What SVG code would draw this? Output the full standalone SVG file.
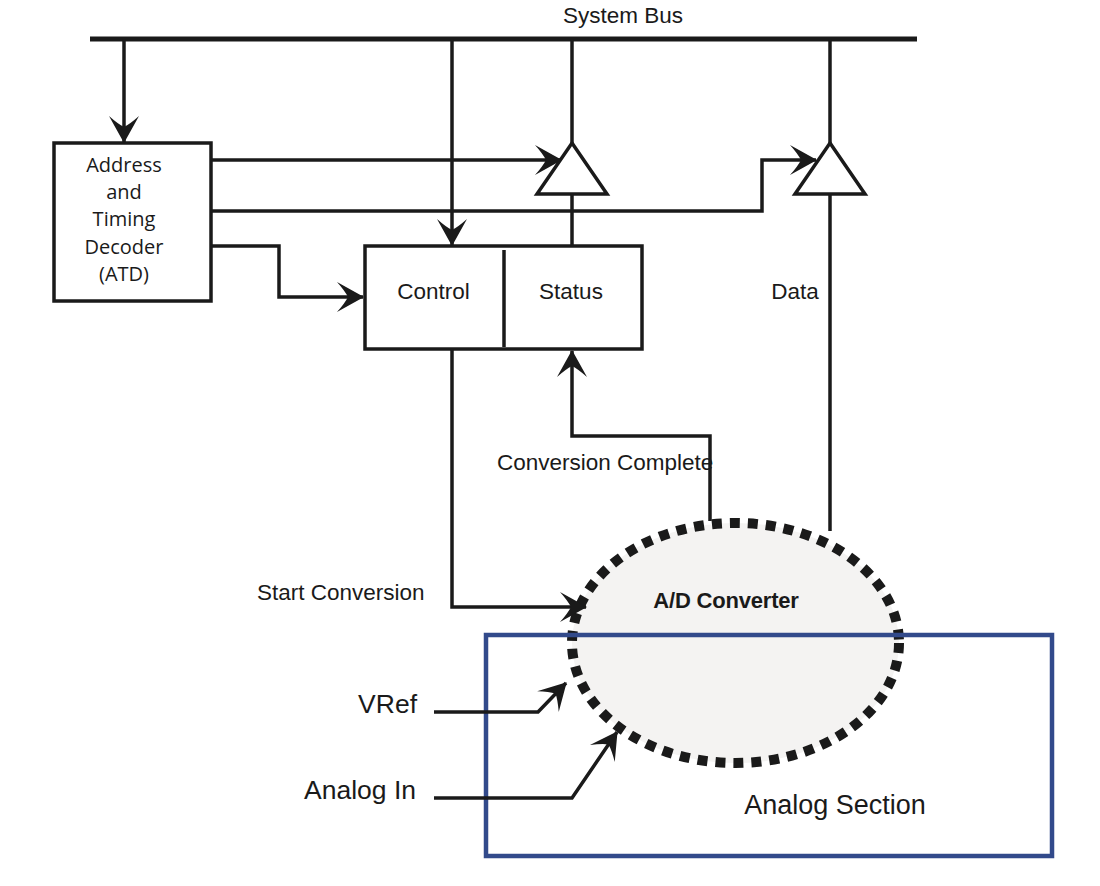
<svg xmlns="http://www.w3.org/2000/svg" width="1100" height="886" viewBox="0 0 1100 886">
<style>
.ln{fill:none;stroke:#1a1a1a;stroke-width:3.5;stroke-linejoin:miter}
.box{fill:#fff;stroke:#1a1a1a;stroke-width:3.5}
.t{font-family:"Liberation Sans",Arial,sans-serif;font-size:22.5px;fill:#1a1a1a}
.atd{font-family:"Open Sans","Noto Sans",sans-serif;font-size:20px;fill:#1a1a1a;text-anchor:middle}
.big{font-family:"Liberation Sans",Arial,sans-serif;font-size:26.5px;fill:#1a1a1a}
</style>
<defs>
<marker id="ah" viewBox="-27 -16 29 32" refX="0" refY="0" markerWidth="29" markerHeight="32" orient="auto" markerUnits="userSpaceOnUse">
<path d="M1,0 L-26,-15 Q-18,-6 -15,0 Q-18,6 -26,15 Z" fill="#1a1a1a"/>
</marker>
</defs>
<rect width="1100" height="886" fill="#fff"/>

<g id="adc">
<ellipse cx="735.5" cy="643" rx="163.5" ry="120" fill="#f4f3f2" stroke="#1a1a1a" stroke-width="10" stroke-dasharray="10 8"/>
<text x="726" y="608" class="t" style="font-weight:bold;font-size:22px;letter-spacing:-0.2px" text-anchor="middle">A/D Converter</text>
</g>

<g id="analog-section">
<rect x="486" y="635" width="566" height="221" fill="none" stroke="#324a8b" stroke-width="4.5"/>
<text x="835" y="814" class="big" text-anchor="middle" style="font-size:27px">Analog Section</text>
</g>

<g id="system-bus">
<line x1="90" y1="39" x2="917" y2="39" stroke="#1a1a1a" stroke-width="5"/>
<text x="623" y="23" class="t" text-anchor="middle">System Bus</text>
</g>

<g id="atd">
<rect x="54" y="143" width="157" height="158" class="box"/>
<text class="atd"><tspan x="124" y="172">Address</tspan><tspan x="124" y="199">and</tspan><tspan x="124" y="226">Timing</tspan><tspan x="124" y="254">Decoder</tspan><tspan x="124" y="281">(ATD)</tspan></text>
</g>

<g id="control-status">
<rect x="365" y="246" width="277" height="103" class="box"/>
<line x1="504" y1="250" x2="504" y2="347" stroke="#1a1a1a" stroke-width="3.5"/>
<text x="433.5" y="299" class="t" text-anchor="middle">Control</text>
<text x="571" y="299" class="t" text-anchor="middle">Status</text>
</g>

<g id="buffer1">
<polygon points="572,143 607,194 537,194" class="box"/>
</g>
<g id="buffer2">
<polygon points="830,143 865,194 795,194" class="box"/>
</g>

<g id="connectors">
<line x1="124" y1="39" x2="124" y2="142" class="ln" marker-end="url(#ah)"/>
<line x1="452" y1="39" x2="452" y2="245" class="ln" marker-end="url(#ah)"/>
<line x1="572" y1="39" x2="572" y2="143" class="ln"/>
<line x1="830" y1="39" x2="830" y2="143" class="ln"/>
<polyline points="211,160 561,160" class="ln" marker-end="url(#ah)"/>
<polyline points="211,211 762,211 762,160 816,160" class="ln" marker-end="url(#ah)"/>
<polyline points="211,246 279,246 279,297 363,297" class="ln" marker-end="url(#ah)"/>
<line x1="572" y1="194" x2="572" y2="246" class="ln"/>
<line x1="830" y1="194" x2="830" y2="531" class="ln"/>
<polyline points="452,349 452,607 586,607" class="ln" marker-end="url(#ah)"/>
<polyline points="710,521 710,436 572,436 572,351" class="ln" marker-end="url(#ah)"/>
<polyline points="434,712 538,712 566,683" class="ln" marker-end="url(#ah)"/>
<polyline points="434,798 572,798 617,732" class="ln" marker-end="url(#ah)"/>
</g>

<g id="labels">
<text x="795" y="299" class="t" text-anchor="middle">Data</text>
<text x="497" y="470" class="t">Conversion Complete</text>
<text x="257" y="600" class="t">Start Conversion</text>
<text x="417" y="713" class="big" text-anchor="end">VRef</text>
<text x="416" y="799" class="big" text-anchor="end">Analog In</text>
</g>
</svg>
